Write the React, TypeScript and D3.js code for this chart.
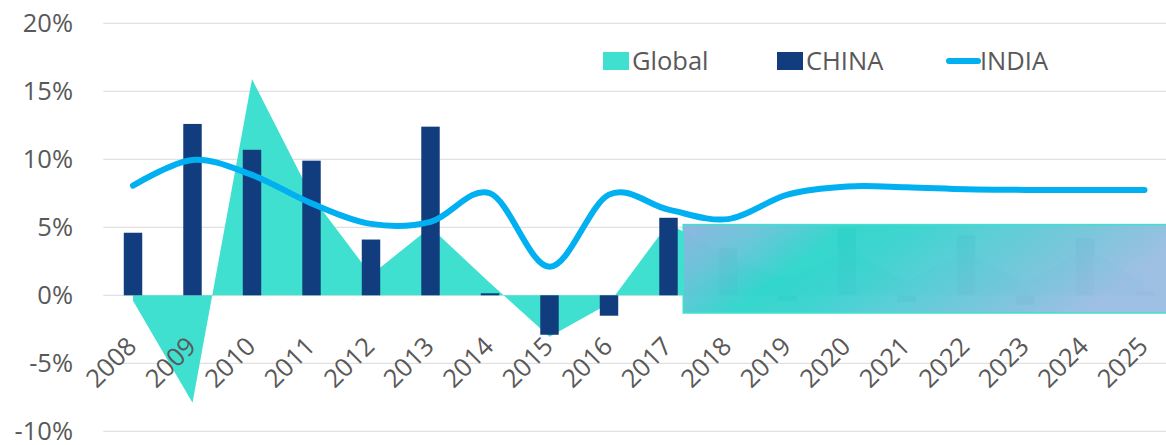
import React from "react";
import * as d3 from "d3";

const years = ["2008","2009","2010","2011","2012","2013","2014","2015","2016","2017","2018","2019","2020","2021","2022","2023","2024","2025"];
const globalVals = [-0.4, -7.9, 15.9, 7.3, 1.5, 5.0, 0.9, -3.05, -0.6, 5.3, 2.8, 1.2, 3.4, 1.0, 3.3, 0.9, 3.5, 1.0];
const chinaVals = [4.6, 12.6, 10.7, 9.9, 4.1, 12.4, 0.15, -2.9, -1.5, 5.7, 3.5, -0.4, 4.9, -0.5, 4.4, -0.7, 4.2, 0.3];
const indiaVals = [8.06, 9.95, 8.85, 6.76, 5.25, 5.4, 7.5, 2.1, 7.4, 6.3, 5.6, 7.4, 8.0, 7.95, 7.8, 7.75, 7.75, 7.75];
const yTicks = [-10, -5, 0, 5, 10, 15, 20];
const seriesNames = ["Global", "CHINA", "INDIA"];
// redaction box covering forecast years (in data units)
const blurFromYear = "2018";
const blurTop = 5.2;
const blurBottom = -1.3;

const W = 1166;
const H = 445;
const FONT = "'Open Sans', 'Noto Sans', sans-serif";
const TXT = "#595959";
const C_GLOBAL = "#40E0D0";
const C_CHINA = "#113C7E";
const C_INDIA = "#00B0F0";

export default function App() {
  const x = d3.scaleBand<string>().domain(years).range([103.25, 1174.25]).padding(0);
  const y = d3.scaleLinear().domain([-10, 20]).range([431.3, 23.3]);
  const cx = (yr: string) => (x(yr) as number) + x.bandwidth() / 2;
  const barW = x.bandwidth() * 0.31;

  const area = d3
    .area<number>()
    .x((_, i) => cx(years[i]))
    .y0(y(0))
    .y1((d) => y(d))
    .curve(d3.curveLinear);

  const line = d3
    .line<number>()
    .x((_, i) => cx(years[i]))
    .y((d) => y(d))
    .curve(d3.curveCatmullRom.alpha(0));

  const blurX = (x(blurFromYear) as number) - 15;

  return (
    <svg
      width={W}
      height={H}
      style={{ position: "absolute", left: 0, top: 0, background: "#fff" }}
      fontFamily={FONT}
    >
      <defs>
        <linearGradient id="blurGrad" x1="0" y1="0" x2="1" y2="0.25">
          <stop offset="0" stopColor="#8EB4E0" />
          <stop offset="0.15" stopColor="#6CC3D9" />
          <stop offset="0.33" stopColor="#30D6CB" />
          <stop offset="0.47" stopColor="#3DD3CF" />
          <stop offset="0.62" stopColor="#58CDD5" />
          <stop offset="0.8" stopColor="#76C5DA" />
          <stop offset="1" stopColor="#9BBEE2" />
        </linearGradient>
      </defs>

      {/* gridlines */}
      {yTicks.map((t) => (
        <line key={"g" + t} x1={103.25} x2={W} y1={y(t)} y2={y(t)} stroke="#D9D9D9" strokeWidth={1} />
      ))}

      {/* y labels */}
      {yTicks.map((t) => (
        <text
          key={"yl" + t}
          x={73}
          y={y(t)}
          dy="0.36em"
          textAnchor="end"
          fontSize={25.5}
          fill={TXT}
        >
          {t + "%"}
        </text>
      ))}

      {/* Global area */}
      <path d={area(globalVals) || ""} fill={C_GLOBAL} />

      {/* China bars */}
      {chinaVals.map((v, i) => (
        <rect
          key={"b" + i}
          x={cx(years[i]) - barW / 2}
          y={Math.min(y(v), y(0))}
          width={barW}
          height={Math.abs(y(v) - y(0))}
          fill={C_CHINA}
        />
      ))}

      {/* redaction box */}
      <rect
        x={blurX}
        y={y(blurTop)}
        width={W - blurX + 5}
        height={y(blurBottom) - y(blurTop)}
        fill="url(#blurGrad)"
        fillOpacity={0.975}
        stroke={C_GLOBAL}
        strokeWidth={1.5}
      />

      {/* India line */}
      <path
        d={line(indiaVals) || ""}
        fill="none"
        stroke={C_INDIA}
        strokeWidth={6}
        strokeLinecap="round"
        strokeLinejoin="round"
      />

      {/* x labels */}
      {years.map((yr) => (
        <text
          key={"xl" + yr}
          transform={`translate(${cx(yr) + 5},348) rotate(-45)`}
          textAnchor="end"
          fontSize={25.5}
          fill={TXT}
        >
          {yr}
        </text>
      ))}

      {/* legend */}
      <g fontSize={25.5} fill={TXT}>
        <rect x={603} y={52} width={26} height={18} fill={C_GLOBAL} />
        <text x={632} y={70}>{seriesNames[0]}</text>
        <rect x={777} y={52} width={26} height={18} fill={C_CHINA} />
        <text x={806} y={70}>{seriesNames[1]}</text>
        <line x1={949} x2={978} y1={61} y2={61} stroke={C_INDIA} strokeWidth={6} strokeLinecap="round" />
        <text x={980} y={70}>{seriesNames[2]}</text>
      </g>
    </svg>
  );
}
